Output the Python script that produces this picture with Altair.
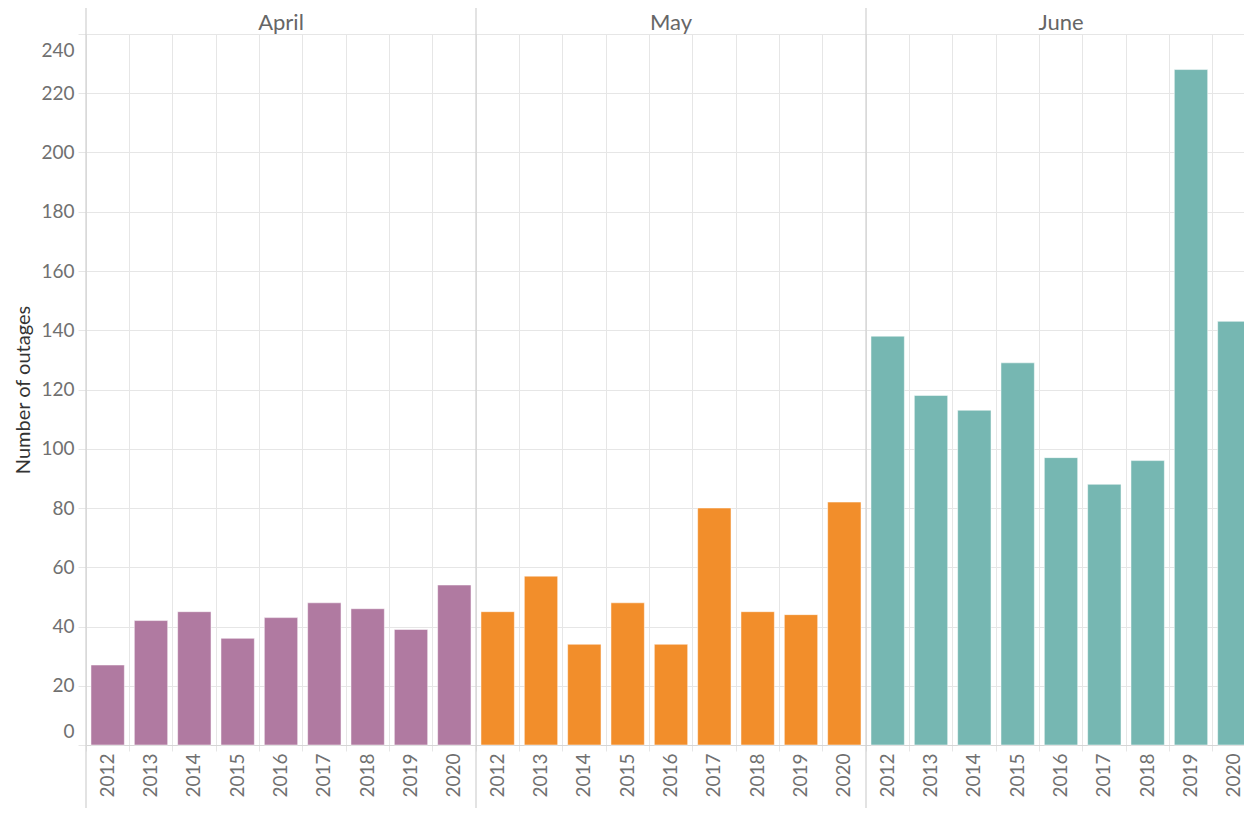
import altair as alt
import pandas as pd

months = ["April", "May", "June"]
years = ["2012", "2013", "2014", "2015", "2016", "2017", "2018", "2019", "2020"]
april = [27, 42, 45, 36, 43, 48, 46, 39, 54]
may = [45, 57, 34, 48, 34, 80, 45, 44, 82]
june = [138, 118, 113, 129, 97, 88, 96, 228, 143]
colors = ["#B07AA1", "#F28E2B", "#76B7B2"]
y_ticks = [0, 20, 40, 60, 80, 100, 120, 140, 160, 180, 200, 220, 240]

rows = []
for m, vals in zip(months, [april, may, june]):
    for yr, v in zip(years, vals):
        rows.append({"month": m, "year": yr, "key": f"{m} {yr}", "value": v})
df = pd.DataFrame(rows)
keys = list(df["key"])

FONT = "Lato"
GRID = "#e6e6e6"
SEP = "#d0d0d0"
LABEL = "#707070"

xscale = alt.Scale(domain=keys, range=[0, 1170], paddingInner=0, paddingOuter=0)

bars = alt.Chart(df).mark_bar(
    width={"band": 0.77}, stroke="white", strokeWidth=1, strokeOpacity=0.5
).encode(
    x=alt.X(
        "key:N",
        scale=xscale,
        sort=keys,
        axis=alt.Axis(
            title=None,
            labelExpr="split(datum.label, ' ')[1]",
            labelAngle=270,
            labelFontSize=19,
            labelColor=LABEL,
            labelPadding=2,
            bandPosition=0,
            grid=True,
            gridColor=GRID,
            ticks=True,
            tickColor=GRID,
            tickSize=6,
            domainColor="#d6d6d6",
        ),
    ),
    y=alt.Y(
        "value:Q",
        scale=alt.Scale(domain=[0, 240], nice=False),
        axis=alt.Axis(
            title="Number of outages",
            values=y_ticks,
            labelFontSize=19,
            labelColor=LABEL,
            labelPadding=4,
            labelFlush=False,
            labelOffset={
                "condition": [
                    {"test": "datum.value == 0", "value": -14},
                    {"test": "datum.value == 240", "value": 16},
                ],
                "value": 0,
            },
            tickColor=GRID,
            tickSize=8,
            gridColor=GRID,
            domain=False,
            titleFontSize=20,
            titleFontWeight="normal",
            titleColor="#333333",
            titlePadding=7,
        ),
    ),
    color=alt.Color("month:N", scale=alt.Scale(domain=months, range=colors), legend=None),
)

firsts = df[df["year"] == years[0]]
seps = alt.Chart(firsts).mark_rule(color=SEP, strokeWidth=1.2).encode(
    x=alt.X("key:N", scale=xscale, sort=keys, bandPosition=0),
    y=alt.value(-26),
    y2=alt.value(790),
)

mids = df[df["year"] == years[4]]
headers = alt.Chart(mids).mark_text(
    fontSize=22, color="#666666", baseline="middle", font=FONT
).encode(
    x=alt.X("key:N", scale=xscale, sort=keys),
    y=alt.value(-11),
    text="month:N",
)

chart = alt.layer(bars, seps, headers).properties(
    width=1158,
    height=711,
    autosize="none",
    padding={"left": 78, "top": 26, "right": 0, "bottom": 63},
).configure(font=FONT).configure_view(strokeWidth=0)

chart.save("out.html", embed_options={"renderer": "svg", "actions": False})
